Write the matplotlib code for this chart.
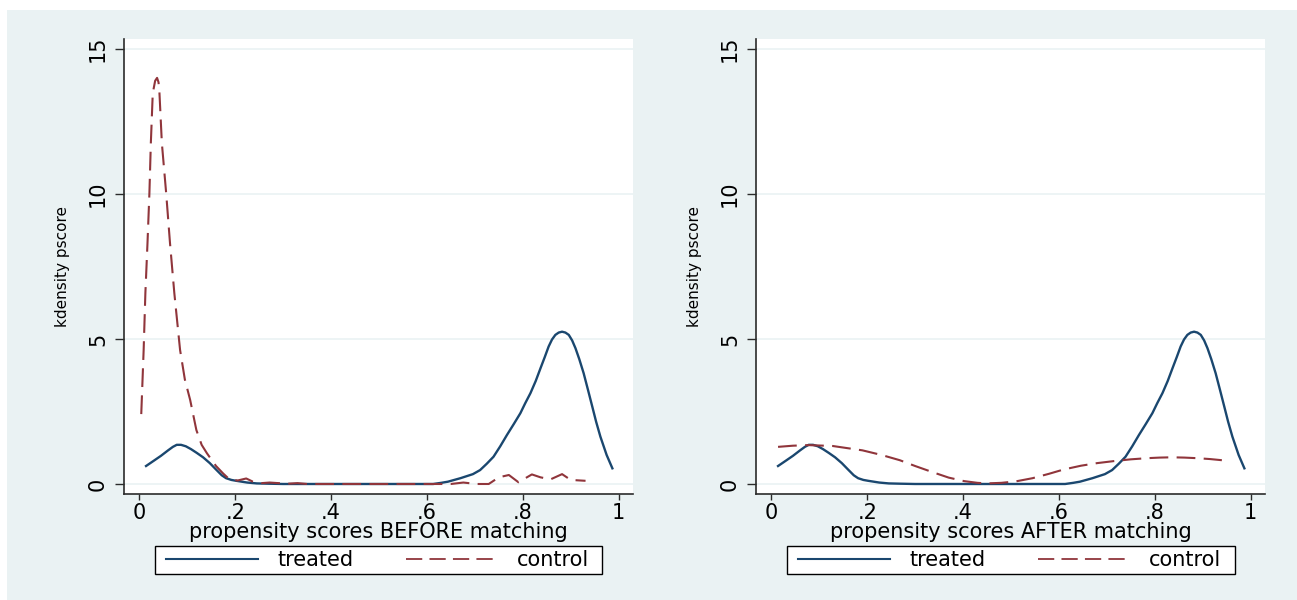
import matplotlib
matplotlib.use("Agg")
import matplotlib.pyplot as plt
from matplotlib.patches import Rectangle
from matplotlib.lines import Line2D

# colours (Stata s2color scheme)
NAVY = "#1a476f"
MAROON = "#90353b"
BG = "#eaf2f3"

# treated group density (same in both panels)
treated_x = [0.014, 0.03, 0.045, 0.06, 0.07, 0.078, 0.087, 0.097, 0.108, 0.12,
             0.133, 0.147, 0.16, 0.172, 0.181, 0.192, 0.202, 0.225, 0.245, 0.27,
             0.30, 0.40, 0.50, 0.60, 0.613, 0.63, 0.644, 0.67, 0.696, 0.711,
             0.725, 0.739, 0.753, 0.767, 0.781, 0.795, 0.805, 0.816, 0.827, 0.837,
             0.846, 0.854, 0.861, 0.868, 0.875, 0.882, 0.889, 0.896, 0.903, 0.91,
             0.918, 0.927, 0.936, 0.945, 0.953, 0.962, 0.975, 0.987]
treated_y = [0.62, 0.80, 0.97, 1.16, 1.28, 1.35, 1.35, 1.30, 1.20, 1.07,
             0.92, 0.72, 0.50, 0.30, 0.20, 0.14, 0.11, 0.05, 0.02, 0.01,
             0.0, 0.0, 0.0, 0.0, 0.0, 0.04, 0.08, 0.20, 0.34, 0.48,
             0.70, 0.94, 1.30, 1.69, 2.06, 2.44, 2.78, 3.13, 3.55, 3.99,
             4.38, 4.74, 4.98, 5.14, 5.22, 5.25, 5.22, 5.14, 4.95, 4.68,
             4.30, 3.82, 3.25, 2.67, 2.15, 1.63, 1.00, 0.54]

# control group density before matching
before_x = [0.004, 0.009, 0.0126, 0.017, 0.021, 0.024, 0.028, 0.033, 0.037, 0.040,
            0.042, 0.047, 0.056, 0.064, 0.073, 0.085, 0.095, 0.106, 0.119, 0.13,
            0.141, 0.15, 0.16, 0.175, 0.188, 0.205, 0.223, 0.237, 0.255, 0.272,
            0.29, 0.31, 0.33, 0.35, 0.40, 0.50, 0.60, 0.65, 0.676, 0.704,
            0.729, 0.75, 0.771, 0.791, 0.819, 0.837, 0.858, 0.882, 0.90, 0.931]
before_y = [2.41, 4.62, 6.58, 8.30, 10.02, 11.75, 13.47, 13.90, 14.0, 13.85,
            13.47, 11.75, 10.02, 8.30, 6.58, 4.62, 3.60, 2.90, 1.86, 1.35,
            1.06, 0.85, 0.62, 0.36, 0.16, 0.12, 0.19, 0.08, 0.03, 0.05,
            0.03, 0.01, 0.03, 0.0, 0.0, 0.0, 0.0, 0.0, 0.05, 0.0,
            0.0, 0.23, 0.31, 0.06, 0.33, 0.23, 0.16, 0.34, 0.14, 0.11]

# control group density after matching
after_x = [0.014, 0.045, 0.078, 0.128, 0.19, 0.23, 0.268, 0.30, 0.336, 0.37,
           0.402, 0.43, 0.45, 0.48, 0.51, 0.545, 0.579, 0.61, 0.646, 0.68,
           0.715, 0.75, 0.784, 0.81, 0.836, 0.862, 0.888, 0.915, 0.94]
after_y = [1.28, 1.32, 1.34, 1.31, 1.16, 1.00, 0.82, 0.62, 0.41, 0.22,
           0.10, 0.04, 0.02, 0.04, 0.09, 0.20, 0.35, 0.50, 0.63, 0.72,
           0.79, 0.85, 0.89, 0.91, 0.92, 0.91, 0.89, 0.86, 0.82]

x_ticks = [0, 0.2, 0.4, 0.6, 0.8, 1]
x_tick_labels = ["0", ".2", ".4", ".6", ".8", "1"]
y_ticks = [0, 5, 10, 15]
panel_titles = ["propensity scores BEFORE matching", "propensity scores AFTER matching"]
legend_labels = ["treated", "control"]

W, H = 1297, 600
FS = 15
plt.rcParams["font.family"] = ["DejaVu Sans"]
fig = plt.figure(figsize=(W / 100, H / 100), dpi=100, facecolor="white")

# grey backdrop (image has a thin white margin top/left)
fig.patches.append(Rectangle((7 / W, 0), 1 - 7 / W, 1 - 10 / H,
                             transform=fig.transFigure, facecolor=BG,
                             edgecolor="none", zorder=-10))

DASH = (0, (9, 4))


def px_axes(left, top, right, bottom):
    return fig.add_axes([left / W, 1 - bottom / H, (right - left) / W, (bottom - top) / H])


def style_panel(ax, xlabel):
    ax.set_facecolor("white")
    ax.set_xlim(-0.032, 1.03)
    ax.set_ylim(-0.345, 15.34)
    for s in ("top", "right"):
        ax.spines[s].set_visible(False)
    for s in ("left", "bottom"):
        ax.spines[s].set_color("#2b2b2b")
        ax.spines[s].set_linewidth(1.2)
    ax.set_yticks(y_ticks)
    ax.set_yticklabels([str(v) for v in y_ticks], rotation=90, va="center")
    ax.set_xticks(x_ticks)
    ax.set_xticklabels(x_tick_labels)
    ax.tick_params(axis="y", length=6.5, width=1.0, color="#2b2b2b", pad=5, labelsize=FS)
    ax.tick_params(axis="x", length=4.5, width=1.0, color="#2b2b2b", pad=2, labelsize=FS)
    ax.yaxis.grid(True, color=BG, linewidth=1.2)
    ax.set_axisbelow(True)
    ax.set_xlabel(xlabel, fontsize=FS, labelpad=-1)
    ax.set_ylabel("kdensity pscore", fontsize=11, labelpad=13)


panels = [
    (px_axes(124, 39, 633, 494), before_x, before_y, (155, 546, 602, 574)),
    (px_axes(756, 39, 1265, 494), after_x, after_y, (787, 546, 1235, 574)),
]

for (ax, cx, cy, box), title in zip(panels, panel_titles):
    style_panel(ax, title)
    ax.plot(treated_x, treated_y, color=NAVY, lw=1.7, solid_joinstyle="round")
    ax.plot(cx, cy, color=MAROON, lw=1.5, linestyle=DASH)

    # legend box drawn separately so the inner padding can match
    l, t, r, b = box
    fig.patches.append(Rectangle((l / W, 1 - b / H), (r - l) / W, (b - t) / H,
                                 transform=fig.transFigure, facecolor="white",
                                 edgecolor="black", linewidth=1.0, zorder=1))
    handles = [Line2D([], [], color=NAVY, lw=1.5),
               Line2D([], [], color=MAROON, lw=1.3, linestyle=DASH)]
    fig.legend(handles, legend_labels, ncol=2, loc="center left",
               bbox_to_anchor=((l + 11) / W, 1 - (t + b) / 2 / H),
               fontsize=FS, handlelength=4.4, handletextpad=0.95,
               borderpad=0, columnspacing=2.5, frameon=False, borderaxespad=0)

fig.savefig("out.png", dpi=100, facecolor=fig.get_facecolor())
